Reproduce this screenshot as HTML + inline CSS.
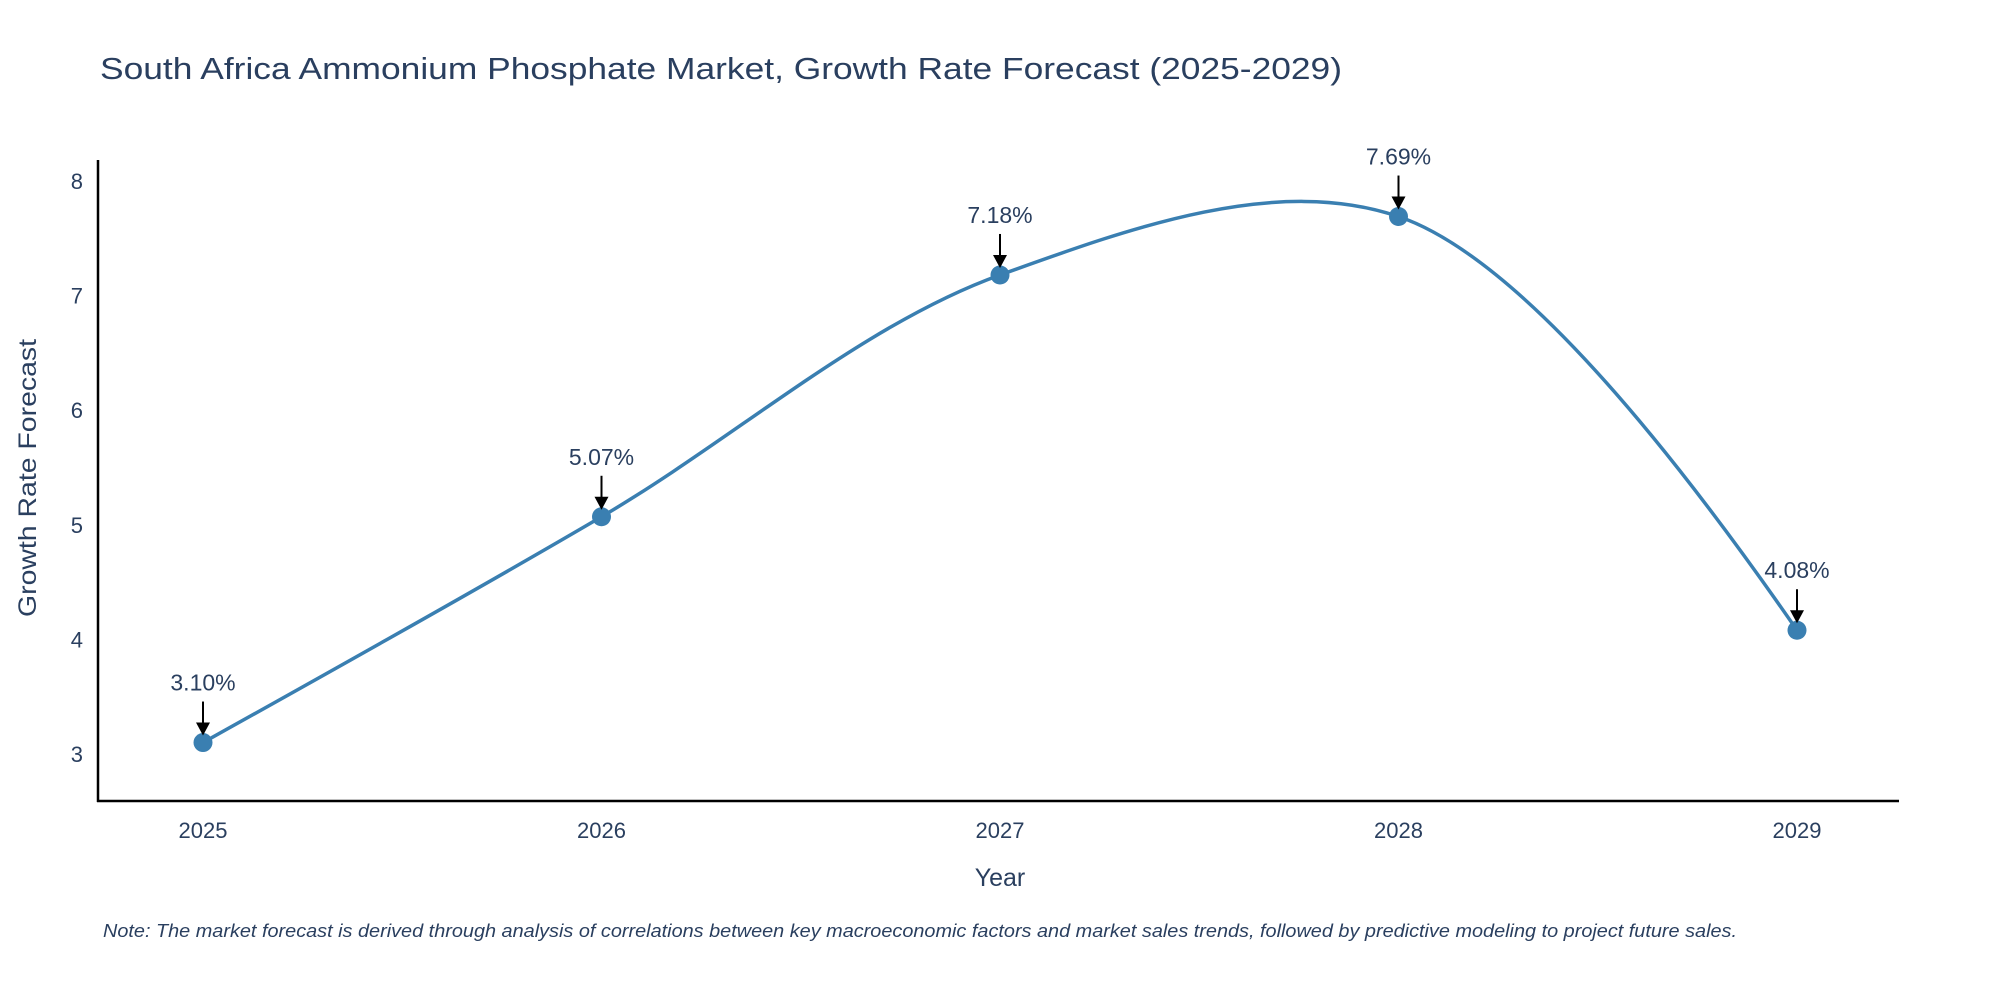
<!DOCTYPE html>
<html><head><meta charset="utf-8"><style>
body{margin:0;background:#fff;}
svg text{font-family:"Liberation Sans",sans-serif;fill:#2a3f5f;}
</style></head><body>
<svg width="2000" height="1000" xmlns="http://www.w3.org/2000/svg">
<text x="100" y="79" font-size="31" textLength="1242" lengthAdjust="spacingAndGlyphs">South Africa Ammonium Phosphate Market, Growth Rate Forecast (2025-2029)</text>
<g id="axes"></g>
<g id="plot"></g>
<text x="1000" y="886" font-size="25" text-anchor="middle">Year</text>
<text transform="translate(36,478) rotate(-90)" font-size="25" text-anchor="middle" textLength="278" lengthAdjust="spacingAndGlyphs">Growth Rate Forecast</text>
<text x="103" y="937" font-size="18" font-style="italic" textLength="1634" lengthAdjust="spacingAndGlyphs">Note: The market forecast is derived through analysis of correlations between key macroeconomic factors and market sales trends, followed by predictive modeling to project future sales.</text>
</svg>
<script>
const categories=[2025,2026,2027,2028,2029];
const values=[3.10,5.07,7.18,7.69,4.08];
const labels=["3.10%","5.07%","7.18%","7.69%","4.08%"];
const yTicks=[3,4,5,6,7,8];
const NS="http://www.w3.org/2000/svg";
const xs=c=>203+(c-2025)*398.5;
const ys=v=>754-(v-3)*114.6;
function mk(tag,attrs,parent){const e=document.createElementNS(NS,tag);for(const k in attrs)e.setAttribute(k,attrs[k]);parent.appendChild(e);return e;}
const axes=document.getElementById('axes'),plot=document.getElementById('plot');
let a=mk('line',{x1:98,y1:160,x2:98,y2:802,stroke:'#000','stroke-width':2.5},axes);


a=mk('line',{x1:97,y1:801,x2:1899,y2:801,stroke:'#000','stroke-width':2.5},axes);


yTicks.forEach(t=>{const e=mk('text',{x:83,y:ys(t)+8,'font-size':22,'text-anchor':'end'},axes);e.textContent=t;

});
categories.forEach(c=>{const e=mk('text',{x:xs(c),y:838,'font-size':22,'text-anchor':'middle'},axes);e.textContent=c;

});
const pts=categories.map((c,i)=>[xs(c),ys(values[i])]);
function tang(p,t,n,s){const d1x=p[0]-t[0],d1y=p[1]-t[1],d2x=n[0]-t[0],d2y=n[1]-t[1];
const d1a=Math.pow(d1x*d1x+d1y*d1y,0.25),d2a=Math.pow(d2x*d2x+d2y*d2y,0.25);
const nx=(d2a*d2a*d1x-d1a*d1a*d2x)*s,ny=(d2a*d2a*d1y-d1a*d1a*d2y)*s;
const den1=3*d2a*(d1a+d2a),den2=3*d1a*(d1a+d2a);
return [[t[0]+nx/den1,t[1]+ny/den1],[t[0]-nx/den2,t[1]-ny/den2]];}
const tg=[];for(let i=1;i<pts.length-1;i++)tg.push(tang(pts[i-1],pts[i],pts[i+1],1));
const n=pts.length;let d='M'+pts[0]+'Q'+tg[0][0]+' '+pts[1];
for(let i=2;i<n-1;i++)d+='C'+tg[i-2][1]+' '+tg[i-1][0]+' '+pts[i];
d+='Q'+tg[n-3][1]+' '+pts[n-1];
const line=mk('path',{d:d,fill:'none',stroke:'#3a7fb1','stroke-width':3.5},plot);


pts.forEach((p,i)=>{
const m=mk('circle',{cx:p[0],cy:p[1],r:9.5,fill:'#3a7fb1'},plot);


const ar=mk('line',{x1:p[0],y1:p[1]-41,x2:p[0],y2:p[1]-18,stroke:'#000','stroke-width':2},plot);


const h=mk('polygon',{points:`${p[0]-7},${p[1]-20} ${p[0]+7},${p[1]-20} ${p[0]},${p[1]-7}`,fill:'#000'},plot);


const t=mk('text',{x:p[0],y:p[1]-52,'font-size':23,'text-anchor':'middle'},plot);t.textContent=labels[i];


});
</script>
</body></html>
